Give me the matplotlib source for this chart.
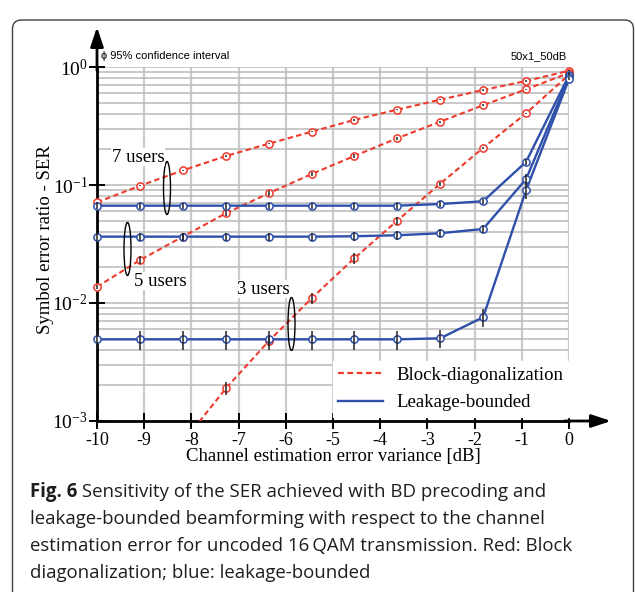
import numpy as np
import matplotlib
matplotlib.use('Agg')
import matplotlib.pyplot as plt
import matplotlib.patches as mpatches
from matplotlib.lines import Line2D
from matplotlib.transforms import IdentityTransform

# ---------------- data ----------------
x_db = [-10, -9.09, -8.18, -7.27, -6.36, -5.45, -4.55, -3.64, -2.73, -1.82, -0.91, 0]
x_db_bd3 = [-8.18, -7.27, -6.36, -5.45, -4.55, -3.64, -2.73, -1.82, -0.91, 0]

ser_bd_7 = [0.0713, 0.0986, 0.133, 0.176, 0.224, 0.283, 0.356, 0.435, 0.528, 0.638, 0.761, 0.93]
ser_bd_5 = [0.0137, 0.0231, 0.0365, 0.0576, 0.0851, 0.124, 0.176, 0.249, 0.344, 0.474, 0.647, 0.89]
ser_bd_3 = [0.00066, 0.00189, 0.00476, 0.0110, 0.0239, 0.0498, 0.1025, 0.206, 0.405, 0.86]

ser_lb_7 = [0.0668, 0.0668, 0.0668, 0.0668, 0.0668, 0.0668, 0.0668, 0.0668, 0.069, 0.0728, 0.157, 0.85]
ser_lb_5 = [0.0365, 0.0365, 0.0365, 0.0365, 0.0365, 0.0365, 0.0368, 0.0375, 0.039, 0.0424, 0.112, 0.82]
ser_lb_3 = [0.00492, 0.00492, 0.00492, 0.00492, 0.00492, 0.00492, 0.00492, 0.00492, 0.00502, 0.00757, 0.0902, 0.79]

# 95% confidence half-widths (SER units)
ci_bd_7 = [0.001, 0.001, 0.002, 0.002, 0.003, 0.003, 0.004, 0.005, 0.006, 0.007, 0.008, 0.01]
ci_bd_5 = [0.0006, 0.0018, 0.0025, 0.0035, 0.004, 0.005, 0.006, 0.007, 0.008, 0.008, 0.009, 0.01]
ci_bd_3 = [0.0001, 0.00023, 0.0004, 0.0011, 0.0024, 0.004, 0.004, 0.005, 0.006, 0.01]
ci_lb_7 = [0.004, 0.004, 0.004, 0.004, 0.004, 0.004, 0.004, 0.004, 0.004, 0.004, 0.008, 0.01]
ci_lb_5 = [0.003, 0.003, 0.003, 0.003, 0.003, 0.003, 0.003, 0.003, 0.003, 0.003, 0.012, 0.01]
ci_lb_3 = [0.0009, 0.0009, 0.0009, 0.0009, 0.0009, 0.0009, 0.0009, 0.0009, 0.0009, 0.0013, 0.014, 0.01]

x_ticks = [-10, -9, -8, -7, -6, -5, -4, -3, -2, -1, 0]
x_tick_labels = ['-10', '-9', '-8', '-7', '-6', '-5', '-4', '-3', '-2', '-1', '0']
y_ticks = [1e-3, 1e-2, 1e-1, 1e0]
y_tick_labels = [r'$10^{-3}$', r'$10^{-2}$', r'$10^{-1}$', r'$10^{0}$']

legend_labels = ['Block-diagonalization', 'Leakage-bounded']
user_labels = ['7 users', '5 users', '3 users']
x_label = 'Channel estimation error variance [dB]'
y_label = 'Symbol error ratio - SER'
ci_note = 'ϕ 95% confidence interval'
config_note = '50x1_50dB'
caption_bold = 'Fig. 6'
caption_lines = [' Sensitivity of the SER achieved with BD precoding and',
                 'leakage-bounded beamforming with respect to the channel',
                 'estimation error for uncoded 16\u2009QAM transmission. Red: Block',
                 'diagonalization; blue: leakage-bounded']

# ---------------- style ----------------
RED = '#ee3a2c'
BLUE = '#2f50aa'
SERIF = 'Liberation Serif'
plt.rcParams['mathtext.fontset'] = 'custom'
plt.rcParams['mathtext.rm'] = SERIF
plt.rcParams['mathtext.it'] = SERIF + ':italic'
plt.rcParams['mathtext.bf'] = SERIF + ':bold'
plt.rcParams['axes.unicode_minus'] = False

W, H = 635, 592
fig = plt.figure(figsize=(W / 100, H / 100), dpi=100)
fig.patch.set_facecolor('white')

# outer rounded frame
frame = mpatches.FancyBboxPatch((12.5, -30), 621, 602, boxstyle='round,pad=0,rounding_size=9',
                                transform=IdentityTransform(), fill=False, ec='#404040', lw=1.0)
fig.patches.append(frame)

ax = fig.add_axes([97 / W, (H - 421) / H, 472 / W, 354 / H])
ax.set_yscale('log')
ax.set_xlim(-10, 0)
ax.set_ylim(1e-3, 1)

# grid
ax.set_axisbelow(True)
ax.grid(True, which='major', axis='x', color='#cbcbcb', lw=1.6)
ax.grid(True, which='both', axis='y', color='#b9b9b9', lw=1.1)
for s in ['top', 'right']:
    ax.spines[s].set_visible(False)
for s in ['left', 'bottom']:
    ax.spines[s].set_linewidth(2.0)
    ax.spines[s].set_color('black')
    ax.spines[s].set_zorder(3)

ax.set_xticks(x_ticks)
ax.set_xticklabels(x_tick_labels, fontfamily=SERIF, fontsize=13)
ax.set_yticks(y_ticks)
ax.set_yticklabels(y_tick_labels, fontsize=14)
ax.yaxis.set_minor_formatter(matplotlib.ticker.NullFormatter())
ax.tick_params(axis='x', which='major', direction='inout', length=11, width=1.4, pad=2.5)
ax.tick_params(axis='y', which='major', direction='inout', length=11, width=1.4, pad=1)
ax.tick_params(axis='y', which='minor', length=0)

def draw_series(xs, ys, ci, color, ls, lw, dashes=None):
    xs = np.asarray(xs, float)
    ys = np.asarray(ys, float)
    ci = np.asarray(ci, float)
    kw = dict(color=color, lw=lw, zorder=4)
    if dashes is not None:
        kw['dashes'] = dashes
    ax.plot(xs, ys, ls=ls, **kw)
    m = ys >= 1e-3
    ax.plot(xs[m], ys[m], ls='none', marker='o', ms=5.2, mfc='white', mec=color, mew=1.1,
            zorder=6, clip_on=False)
    ax.errorbar(xs[m], ys[m], yerr=ci[m], fmt='none', ecolor='#222222', elinewidth=1.1,
                capsize=0, zorder=7, clip_on=False)

draw_series(x_db, ser_bd_7, ci_bd_7, RED, '--', 1.5, dashes=(2.6, 1.6))
draw_series(x_db, ser_bd_5, ci_bd_5, RED, '--', 1.5, dashes=(2.6, 1.6))
draw_series(x_db_bd3, ser_bd_3, ci_bd_3, RED, '--', 1.5, dashes=(2.6, 1.6))
draw_series(x_db, ser_lb_7, ci_lb_7, BLUE, '-', 1.7)
draw_series(x_db, ser_lb_5, ci_lb_5, BLUE, '-', 1.7)
draw_series(x_db, ser_lb_3, ci_lb_3, BLUE, '-', 1.7)

# axis arrows
ax.annotate('', xy=(0, 1 + 40 / 354), xycoords='axes fraction', xytext=(0, 0.99),
            arrowprops=dict(arrowstyle='-|>,head_length=0.9,head_width=0.3', lw=2.0, color='black',
                            mutation_scale=13, shrinkA=0, shrinkB=0), annotation_clip=False)
ax.annotate('', xy=(1 + 42 / 472, 0), xycoords='axes fraction', xytext=(0.99, 0),
            arrowprops=dict(arrowstyle='-|>,head_length=0.9,head_width=0.3', lw=2.0, color='black',
                            mutation_scale=13, shrinkA=0, shrinkB=0), annotation_clip=False)

# user-group annotations (axes fraction)
def px2ax(px, py):
    return (px - 97) / 472, (421 - py) / 354

for (cx, cy), (tx, ty), lab in zip([(167, 188), (127.5, 249), (291.5, 324)],
                                   [(112, 157), (134, 281), (237, 289)], user_labels):
    ex, ey = px2ax(cx, cy)
    ax.add_patch(mpatches.Ellipse((ex, ey), 7 / 472, 53 / 354, transform=ax.transAxes,
                                  fill=False, ec='black', lw=1.0, zorder=8, clip_on=False))
    lx, ly = px2ax(tx, ty)
    ax.text(lx, ly, lab, transform=ax.transAxes, family=SERIF, fontsize=13.5,
            ha='left', va='center', zorder=8,
            bbox=dict(fc='white', ec='none', pad=0.5))

# legend
handles = [Line2D([], [], color=RED, lw=1.6, ls='--', dashes=(2.6, 1.6)),
           Line2D([], [], color=BLUE, lw=1.7)]
leg = ax.legend(handles, legend_labels, loc='lower right', bbox_to_anchor=(1.0, 0.012),
                prop={'family': SERIF, 'size': 13.5}, frameon=True, fancybox=False,
                framealpha=1, facecolor='white', edgecolor='white', borderaxespad=0,
                handlelength=2.4, handletextpad=0.7, borderpad=0.3, labelspacing=0.55)
leg.set_zorder(9)

# axis labels
fig.text(333 / W, 1 - 457 / H, x_label, family=SERIF, fontsize=13.5, ha='center', va='center')
fig.text(46 / W, 1 - 240 / H, y_label, family=SERIF, fontsize=13.5, ha='center', va='center',
         rotation=90)

# small notes
fig.text(101 / W, 1 - 56 / H, ci_note, family='Liberation Sans', fontsize=8, ha='left', va='center')
fig.text(567 / W, 1 - 56 / H, config_note, family='Liberation Sans', fontsize=8, ha='right', va='center')

# caption
renderer = fig.canvas.get_renderer()
cap_size = 13.4
cap_x = 30
baselines = [497, 524, 551, 578]
tb = fig.text(cap_x / W, 1 - baselines[0] / H, caption_bold, family='Open Sans', weight='bold',
              fontsize=cap_size, ha='left', va='baseline', color='#1e1e1e')
bb = tb.get_window_extent(renderer)
fig.text((cap_x + bb.width) / W, 1 - baselines[0] / H, caption_lines[0], family='Open Sans',
         fontsize=cap_size, ha='left', va='baseline', color='#1e1e1e')
for line, b in zip(caption_lines[1:], baselines[1:]):
    fig.text(cap_x / W, 1 - b / H, line, family='Open Sans', fontsize=cap_size,
             ha='left', va='baseline', color='#1e1e1e')

fig.savefig('out.png', dpi=100, facecolor='white')
